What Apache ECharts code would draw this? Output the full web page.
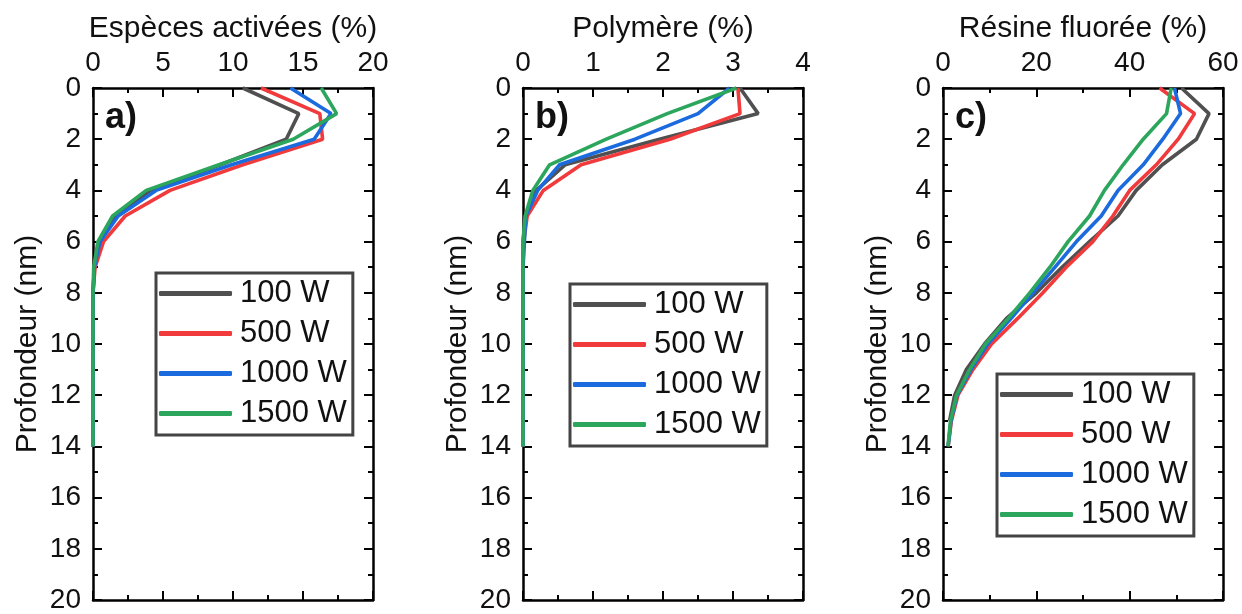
<!DOCTYPE html>
<html>
<head>
<meta charset="utf-8">
<script src="https://cdn.jsdelivr.net/npm/echarts@6/dist/echarts.min.js"></script>
<style>
html,body{margin:0;padding:0;background:#fff;}
#chart{width:1242px;height:614px;}
</style>
</head>
<body>
<div id="chart"></div>
<script>
// ---- data ----
const depth = [0, 1, 2, 3, 4, 5, 6, 7, 8, 9, 10, 11, 12, 13, 14];
const seriesNames = ['100 W', '500 W', '1000 W', '1500 W'];
const seriesColors = ['#505050', '#f03a3c', '#1b6ade', '#2ca65c'];

const panelTitles = ['Espèces activées (%)', 'Polymère (%)', 'Résine fluorée (%)'];
const panelLetters = ['a)', 'b)', 'c)'];
const yTitle = 'Profondeur (nm)';
const xMax = [20, 4, 60];
const xInterval = [5, 1, 20];

// a) Espèces activées (%)
const especes100 = [10.7, 14.7, 13.8, 9.1, 4.1, 1.6, 0.45, 0.1, 0, 0, 0, 0, 0, 0, 0];
const especes500 = [12.0, 16.2, 16.4, 10.7, 5.5, 2.3, 0.75, 0.15, 0, 0, 0, 0, 0, 0, 0];
const especes1000 = [14.1, 17.0, 15.8, 9.9, 4.5, 1.8, 0.5, 0.1, 0, 0, 0, 0, 0, 0, 0];
const especes1500 = [16.3, 17.4, 14.3, 9.0, 3.8, 1.4, 0.35, 0.05, 0, 0, 0, 0, 0, 0, 0];

// b) Polymère (%)
const polymere100 = [3.1, 3.36, 1.95, 0.6, 0.19, 0.04, 0, 0, 0, 0, 0, 0, 0, 0, 0];
const polymere500 = [3.07, 3.1, 2.1, 0.83, 0.29, 0.06, 0.01, 0, 0, 0, 0, 0, 0, 0, 0];
const polymere1000 = [2.95, 2.5, 1.6, 0.52, 0.21, 0.04, 0.02, 0, 0, 0, 0, 0, 0, 0, 0];
const polymere1500 = [3.05, 2.06, 1.19, 0.38, 0.14, 0.03, 0, 0, 0, 0, 0, 0, 0, 0, 0];

// c) Résine fluorée (%)
const resine100 = [51.1, 57.0, 54.3, 47.0, 41.4, 37.5, 31.4, 25.5, 20.0, 13.6, 8.9, 5.0, 2.5, 1.4];
const resine500 = [46.4, 53.9, 50.4, 45.7, 40.0, 36.4, 32.1, 26.4, 21.4, 16.0, 10.4, 6.4, 3.2, 1.8, 1.1];
const resine1000 = [49.6, 50.9, 47.1, 42.9, 37.5, 33.9, 28.6, 24.0, 19.3, 14.6, 9.6, 6.0, 3.0, 1.7, 1.1];
const resine1500 = [48.9, 47.9, 42.9, 38.6, 34.6, 31.4, 26.8, 22.9, 18.6, 14.0, 9.1, 5.7, 2.9, 1.6, 1.07];

const panelData = [
  [especes100, especes500, especes1000, especes1500],
  [polymere100, polymere500, polymere1000, polymere1500],
  [resine100, resine500, resine1000, resine1500]
];

// ---- layout ----
const FONT = '"Liberation Sans", Arial, sans-serif';
const gridLefts = [93, 523, 943];
const gridTop = 88, gridW = 280, gridH = 515;
const legendPos = [[156, 273], [570, 284], [997, 374]];

const grids = [], xAxes = [], yAxes = [], series = [], legends = [], graphics = [];
const axisLine = {show: true, onZero: false, lineStyle: {color: '#000', width: 2.5}};
const tick = {show: true, inside: true, length: 9, lineStyle: {color: '#000', width: 2}};
const minor = {show: true, splitNumber: 2, length: 5, lineStyle: {color: '#000', width: 2}};

for (let p = 0; p < 3; p++) {
  grids.push({left: gridLefts[p], top: gridTop, width: gridW, height: gridH, containLabel: false});
  xAxes.push({
    type: 'value', gridIndex: p, position: 'top', min: 0, max: xMax[p], interval: xInterval[p],
    name: panelTitles[p], nameLocation: 'middle', nameGap: 44,
    nameTextStyle: {fontSize: 30, color: '#111', fontFamily: FONT},
    axisLine: axisLine, axisTick: tick, minorTick: minor, splitLine: {show: false},
    axisLabel: {fontSize: 28, color: '#111', fontFamily: FONT, margin: 11}
  });
  xAxes.push({
    type: 'value', gridIndex: p, position: 'bottom', min: 0, max: xMax[p], interval: xInterval[p],
    axisLine: axisLine, axisTick: tick, minorTick: minor, splitLine: {show: false},
    axisLabel: {show: false}
  });
  yAxes.push({
    type: 'value', gridIndex: p, position: 'left', inverse: true, min: 0, max: 20, interval: 2,
    name: yTitle, nameLocation: 'middle', nameGap: 50, nameRotate: 90,
    nameTextStyle: {fontSize: 30, color: '#111', fontFamily: FONT},
    axisLine: axisLine, axisTick: tick, minorTick: minor, splitLine: {show: false},
    axisLabel: {fontSize: 28, color: '#111', fontFamily: FONT, margin: 12}
  });
  yAxes.push({
    type: 'value', gridIndex: p, position: 'right', inverse: true, min: 0, max: 20, interval: 2,
    axisLine: axisLine, axisTick: tick, minorTick: minor, splitLine: {show: false},
    axisLabel: {show: false}
  });

  for (let i = 0; i < 4; i++) {
    const vals = panelData[p][i];
    series.push({
      type: 'line', name: seriesNames[i], xAxisIndex: p * 2, yAxisIndex: p * 2,
      data: vals.map((v, k) => [v, depth[k]]),
      symbol: 'none', smooth: false, clip: false,
      lineStyle: {color: seriesColors[i], width: 3.6},
      itemStyle: {color: seriesColors[i]},
      z: 3 + i
    });
  }

  legends.push({
    orient: 'vertical', left: legendPos[p][0], top: legendPos[p][1],
    data: seriesNames.map(n => ({name: n, icon: 'roundRect'})),
    itemWidth: 73, itemHeight: 5, itemGap: 9,
    padding: [5, 6, 6, 3],
    borderColor: '#444', borderWidth: 3, backgroundColor: '#fff',
    selectedMode: false,
    textStyle: {fontSize: 31, lineHeight: 30, color: '#111', fontFamily: FONT, padding: [0, 0, 0, 3]}
  });

  graphics.push({
    type: 'text', left: gridLefts[p] + 12, top: 100, z: 100,
    style: {text: panelLetters[p], font: 'bold 36px ' + FONT, fill: '#111'}
  });
}

const chart = echarts.init(document.getElementById('chart'), null, {renderer: 'canvas'});
chart.setOption({
  animation: false,
  backgroundColor: '#fff',
  grid: grids, xAxis: xAxes, yAxis: yAxes, series: series,
  legend: legends, graphic: graphics
});
</script>
</body>
</html>
